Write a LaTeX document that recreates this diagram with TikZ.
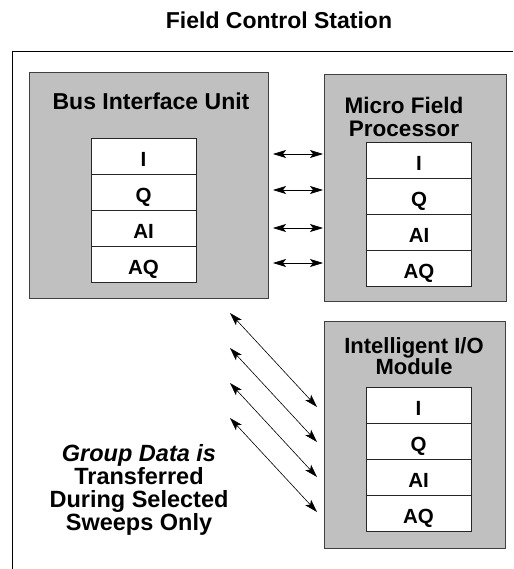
\documentclass[tikz,border=0pt]{standalone}
\usepackage{fontspec}
\setmainfont{Liberation Sans}
\usepackage{xcolor}
\usetikzlibrary{arrows.meta, positioning}
\definecolor{unitgray}{RGB}{192,192,192}

\begin{document}
\begin{tikzpicture}[
    x=1pt, y=-1pt,
    unit/.style = {rectangle, draw=black!75, fill=unitgray, line width=0.8pt, anchor=north west, inner sep=0pt},
    head/.style = {font=\fontsize{22.5}{23.5}\selectfont\bfseries, align=center, inner sep=0pt},
    slot/.style = {rectangle, draw=black!85, fill=white, line width=0.7pt, minimum width=105pt, minimum height=36pt, outer sep=0pt, inner sep=0pt, text height=21pt, text depth=0pt, font=\fontsize{20.5}{20.5}\selectfont\bfseries},
    arrow/.style = {line width=0.6pt, {Stealth[length=13pt, width=8pt, inset=3pt]}-{Stealth[length=13pt, width=8pt, inset=3pt]}}
]
\useasboundingbox (0,0) rectangle (513,569);

% Station frame and title
\draw[line width=0.8pt] (513,51) -- (12.5,51) -- (12.5,569);
\node (title) [head, font=\fontsize{23}{23}\selectfont\bfseries] at (279,20) {Field Control Station};

% Units
\node (biu) [unit, minimum width=239pt, minimum height=226pt] at (29,72) {};
\node (mfp) [unit, minimum width=182pt, minimum height=227pt] at (324,74) {};
\node (iom) [unit, minimum width=181pt, minimum height=227pt] at (324,321) {};

\node (biutitle) [head, font=\fontsize{23}{23}\selectfont\bfseries] at (151,101) {Bus Interface Unit};
\node (mfptitle) [head] at (404,117) {Micro Field\\Processor};
\node (iomtitle) [head, font=\fontsize{22}{21.5}\selectfont\bfseries] at (414,356) {Intelligent I/O\\Module};

% Data slots
\node (bi) [slot, anchor=north] at (143.5,138) {I};
\node (bq) [slot, below=0pt of bi] {Q};
\node (bai) [slot, below=0pt of bq] {AI};
\node (baq) [slot, below=0pt of bai] {AQ};

\node (mi) [slot, anchor=north] at (419,142) {I};
\node (mq) [slot, below=0pt of mi] {Q};
\node (mai) [slot, below=0pt of mq] {AI};
\node (maq) [slot, below=0pt of mai] {AQ};

\node (ii) [slot, anchor=north] at (418.5,387) {I};
\node (iq) [slot, below=0pt of ii] {Q};
\node (iai) [slot, below=0pt of iq] {AI};
\node (iaq) [slot, below=0pt of iai] {AQ};

% Note
\node (note) [head, font=\fontsize{23.5}{23}\selectfont\bfseries] at (139,490) {\textit{Group Data is}\\Transferred\\During Selected\\Sweeps Only};

% Arrows
\foreach \y [count=\i] in {154,190,228,263} {
    \coordinate (l\i) at (273,\y);
    \coordinate (r\i) at (323,\y);
    \draw [arrow] (l\i) -- (r\i);
}
\foreach \y [count=\i] in {313,348,383,418} {
    \coordinate (d\i) at (230,\y);
    \coordinate (e\i) at (317,\y+94);
    \draw [arrow] (d\i) -- (e\i);
}

\end{tikzpicture}
\end{document}
